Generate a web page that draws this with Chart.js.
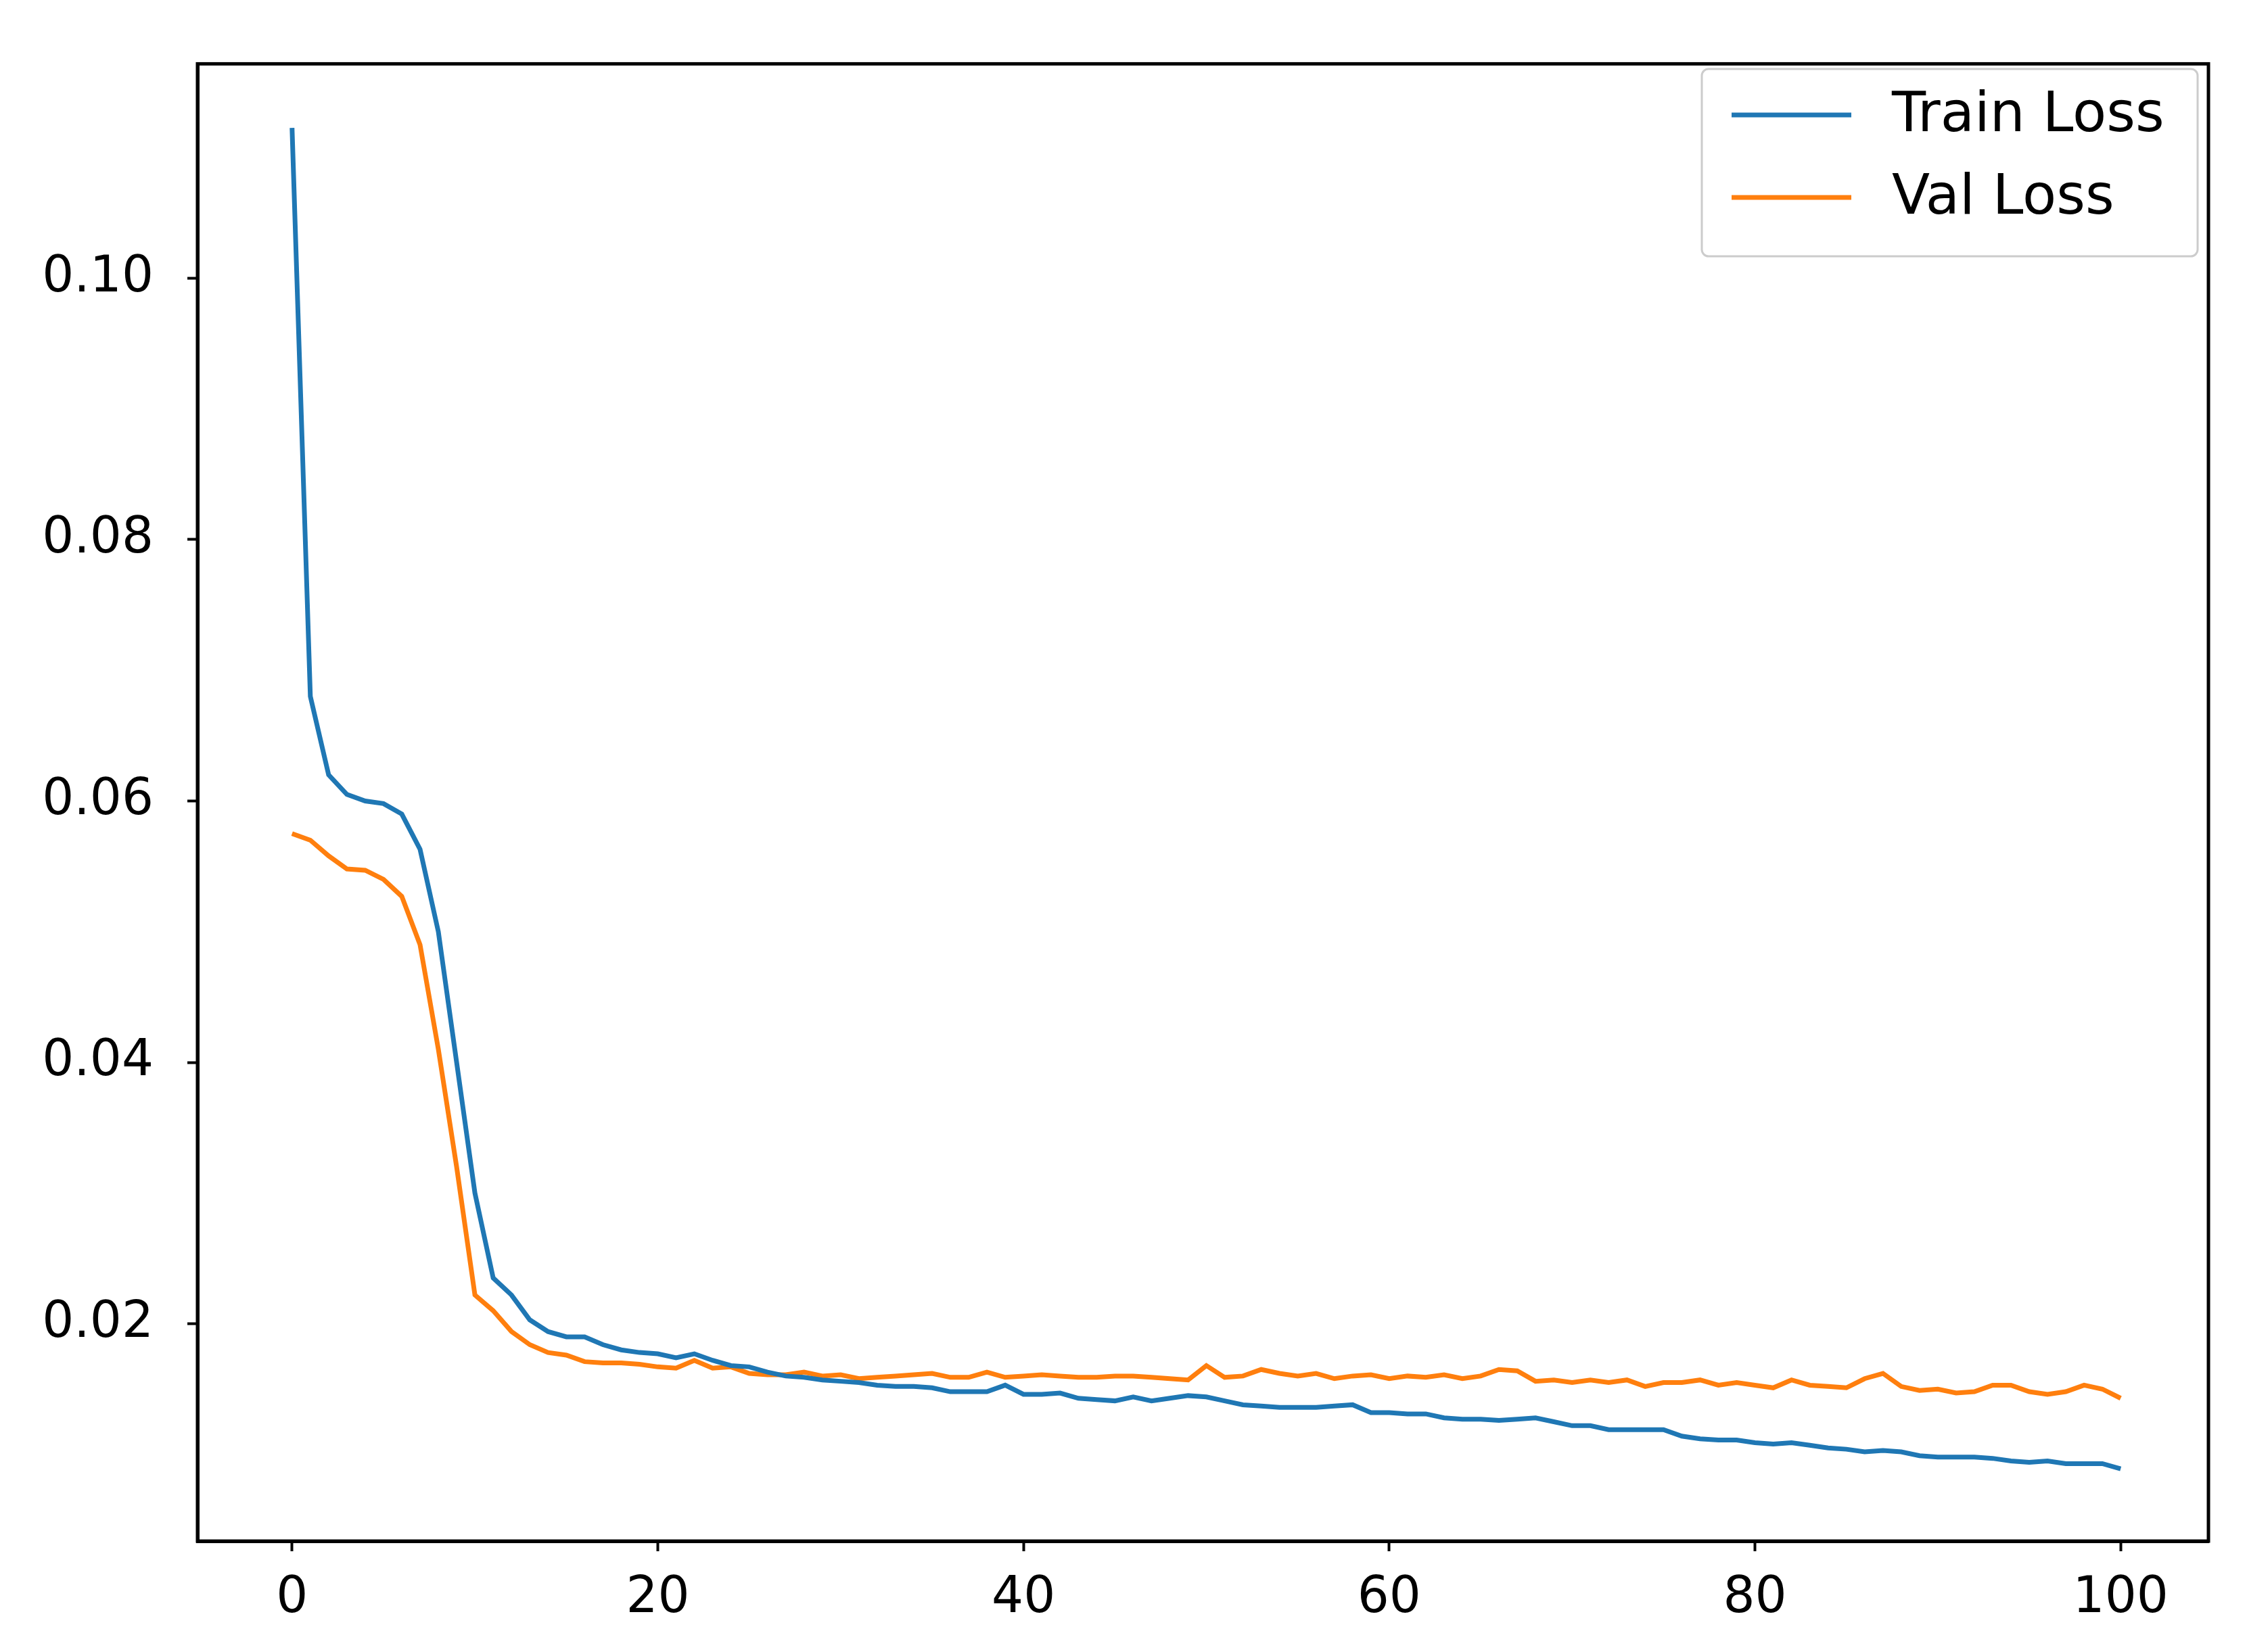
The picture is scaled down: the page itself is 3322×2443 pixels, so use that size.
<!DOCTYPE html>
<html><head><meta charset="utf-8">
<script src="https://cdn.jsdelivr.net/npm/chart.js@4/dist/chart.umd.min.js"></script>
<style>html,body{margin:0;padding:0;background:#fff}canvas{display:block}</style>
</head><body>
<div style="width:3322px;height:2443px"><canvas id="c" width="3322" height="2443"></canvas></div>
<script>
const epochs = Array.from({length:101},(_,i)=>i);
const trainLoss = [0.1115,0.068,0.062,0.0605,0.0600,0.0598,0.0590,0.0563,0.0500,0.0400,0.0300,0.0235,0.0222,0.0203,0.0194,0.0190,0.0190,0.0184,0.0180,0.0178,0.0177,0.0174,0.0177,0.0172,0.0168,0.0167,0.0163,0.0160,0.0159,0.0157,0.0156,0.0155,0.0153,0.0152,0.0152,0.0151,0.0148,0.0148,0.0148,0.0153,0.0146,0.0146,0.0147,0.0143,0.0142,0.0141,0.0144,0.0141,0.0143,0.0145,0.0144,0.0141,0.0138,0.0137,0.0136,0.0136,0.0136,0.0137,0.0138,0.0132,0.0132,0.0131,0.0131,0.0128,0.0127,0.0127,0.0126,0.0127,0.0128,0.0125,0.0122,0.0122,0.0119,0.0119,0.0119,0.0119,0.0114,0.0112,0.0111,0.0111,0.0109,0.0108,0.0109,0.0107,0.0105,0.0104,0.0102,0.0103,0.0102,0.0099,0.0098,0.0098,0.0098,0.0097,0.0095,0.0094,0.0095,0.0093,0.0093,0.0093,0.0089];
const valLoss = [0.0575,0.0570,0.0558,0.0548,0.0547,0.0540,0.0527,0.0490,0.0410,0.0320,0.0222,0.0210,0.0194,0.0184,0.0178,0.0176,0.0171,0.0170,0.0170,0.0169,0.0167,0.0166,0.0172,0.0166,0.0167,0.0162,0.0161,0.0161,0.0163,0.0160,0.0161,0.0158,0.0159,0.0160,0.0161,0.0162,0.0159,0.0159,0.0163,0.0159,0.0160,0.0161,0.0160,0.0159,0.0159,0.0160,0.0160,0.0159,0.0158,0.0157,0.0168,0.0159,0.0160,0.0165,0.0162,0.0160,0.0162,0.0158,0.0160,0.0161,0.0158,0.0160,0.0159,0.0161,0.0158,0.0160,0.0165,0.0164,0.0156,0.0157,0.0155,0.0157,0.0155,0.0157,0.0152,0.0155,0.0155,0.0157,0.0153,0.0155,0.0153,0.0151,0.0157,0.0153,0.0152,0.0151,0.0158,0.0162,0.0152,0.0149,0.0150,0.0147,0.0148,0.0153,0.0153,0.0148,0.0146,0.0148,0.0153,0.0150,0.0143];
const xTicks = [0,20,40,60,80,100];
const yTicks = [0.02,0.04,0.06,0.08,0.10];
const seriesNames = ['Train Loss','Val Loss'];
const colors = ['#1f77b4','#ff7f0e'];
const FONT = 'DejaVu Sans';
const legendPlugin = {id:'mplLegend',afterDraw(ch){
  const c=ch.ctx; c.save();
  const x0=2516,y0=102,w=733,h=277;
  c.fillStyle='rgba(255,255,255,0.8)'; c.strokeStyle='#cccccc'; c.lineWidth=3;
  c.beginPath(); c.roundRect(x0,y0,w,h,10); c.fill(); c.stroke();
  c.font='82px '+FONT; c.textBaseline='middle'; c.fillStyle='#000';
  ch.data.datasets.forEach((d,i)=>{const y=[170,292][i];
    c.strokeStyle=d.borderColor; c.lineWidth=7; c.beginPath(); c.moveTo(2560,y); c.lineTo(2737,y); c.stroke();
    c.fillText(d.label,2797,y+3);});
  c.restore();}};
new Chart(document.getElementById('c'),{
  type:'line',
  data:{datasets:[
    {label:seriesNames[0],data:epochs.map((e,i)=>({x:e,y:trainLoss[i]})),borderColor:colors[0],borderWidth:7,pointRadius:0,tension:0},
    {label:seriesNames[1],data:epochs.map((e,i)=>({x:e,y:valLoss[i]})),borderColor:colors[1],borderWidth:7,pointRadius:0,tension:0}]},
  options:{responsive:false,animation:false,devicePixelRatio:1,
    layout:{padding:{top:60,right:57,left:0,bottom:0}},
    plugins:{legend:{display:false},tooltip:{enabled:false}},
    scales:{
      x:{type:'linear',min:-5.17,max:104.8,
        afterBuildTicks(s){s.ticks=xTicks.map(v=>({value:v}));},
        afterFit(s){s.height=164;},
        ticks:{font:{family:FONT,size:74},color:'#000',padding:26,maxRotation:0},
        grid:{drawOnChartArea:false,color:'#000',tickLength:15,tickWidth:4},
        border:{color:'#000',width:5}},
      y:{min:0.00337,max:0.1164,
        afterBuildTicks(s){s.ticks=yTicks.map(v=>({value:v}));},
        afterFit(s){s.width=292;},
        ticks:{font:{family:FONT,size:74},color:'#000',padding:50,callback:v=>v.toFixed(2)},
        grid:{drawOnChartArea:false,color:'#000',tickLength:15,tickWidth:4},
        border:{color:'#000',width:5}}}},
  plugins:[legendPlugin,{id:'frame',afterDraw(ch){const a=ch.chartArea,c=ch.ctx;c.save();c.strokeStyle='#000';c.lineWidth=5;c.strokeRect(a.left,a.top,a.right-a.left,a.bottom-a.top);c.restore();}}]
});
</script></body></html>
